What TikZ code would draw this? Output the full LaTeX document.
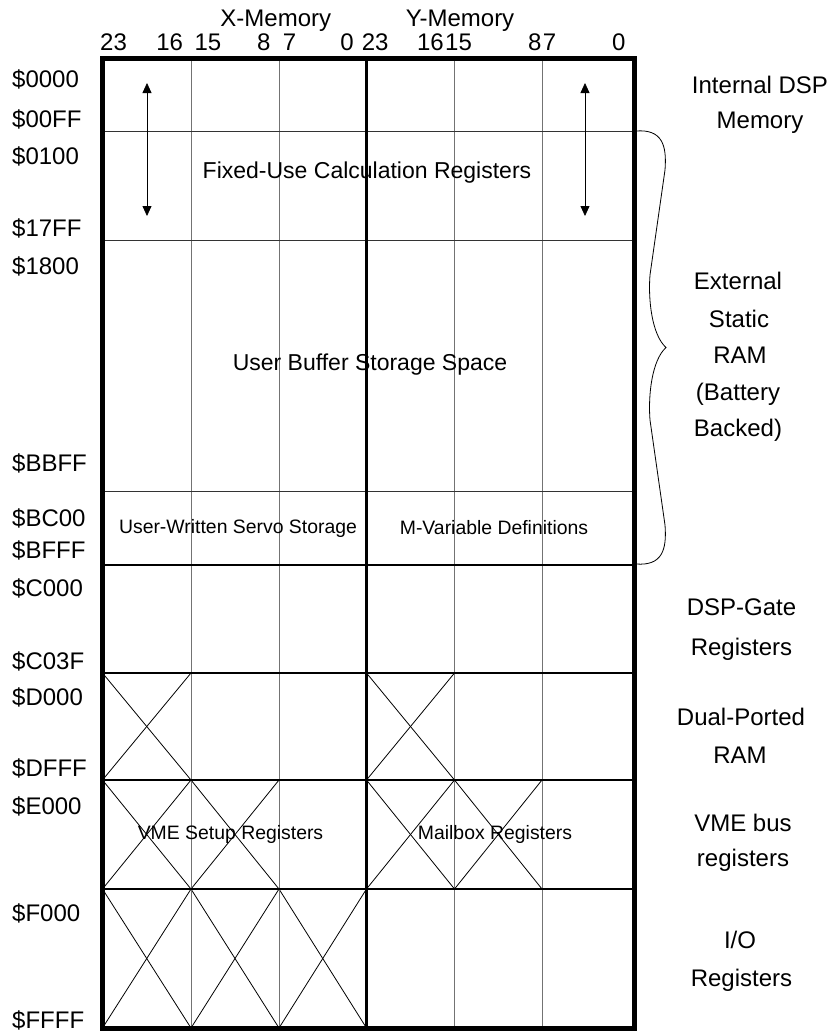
\documentclass[tikz,border=0pt]{standalone}
\usepackage{fontspec}
\setmainfont{Liberation Sans}
\usetikzlibrary{arrows.meta}
\begin{document}
\begin{tikzpicture}[x=1pt,y=-1pt,
  big/.style={font=\fontsize{24}{24}\selectfont, inner sep=0pt},
  mid/.style={font=\fontsize{23}{23}\selectfont, inner sep=0pt},
  small/.style={font=\fontsize{19.4}{19.4}\selectfont, inner sep=0pt},
  addr/.style={big, anchor=base west},
  side/.style={big, anchor=base},
  colline/.style={line width=1pt, draw=black!55},
  thinrow/.style={line width=1pt, draw=black!80},
  thickline/.style={line width=2.6pt, draw=black},
  border/.style={line width=5pt, draw=black},
  cross/.style={line width=0.8pt, draw=black},
  dblarrow/.style={line width=0.8pt, {Triangle[width=9pt,length=10pt]}-{Triangle[width=9pt,length=10pt]}},
  bracestyle/.style={line width=0.8pt, draw=black}
]
\useasboundingbox (0,0) rectangle (831,1034);
\fill[white] (0,0) rectangle (831,1034);

% column x positions
\def\xa{102.5}\def\xb{191}\def\xc{279}\def\xd{366.5}\def\xe{454.5}\def\xf{542}\def\xg{634}
% row y positions
\def\ya{58.5}\def\yb{131}\def\yc{240.5}\def\yd{491}\def\ye{565}\def\yf{673}\def\yg{780}\def\yh{889}\def\yi{1028}

% crosses
\foreach \l/\r/\t/\b in {\xa/\xb/\yf/\yg, \xd/\xe/\yf/\yg,
  \xa/\xb/\yg/\yh, \xb/\xc/\yg/\yh, \xd/\xe/\yg/\yh, \xe/\xf/\yg/\yh,
  \xa/\xb/\yh/\yi, \xb/\xc/\yh/\yi, \xc/\xd/\yh/\yi}{
  \draw[cross] (\l,\t) -- (\r,\b);
  \draw[cross] (\l,\b) -- (\r,\t);
}

% thin column lines
\foreach \x in {\xb,\xc,\xe,\xf}{ \draw[colline] (\x,\ya) -- (\x,\yi); }
% thin row lines
\foreach \y in {\yb,\yc,\yd}{ \draw[thinrow] (\xa,\y) -- (\xg,\y); }
% thick lines
\draw[thickline] (\xd,\ya) -- (\xd,\yi);
\foreach \y in {\ye,\yf,\yg,\yh}{ \draw[thickline] (\xa,\y) -- (\xg,\y); }
% border
\draw[border] (\xa,\ya) rectangle (\xg,\yi);

% headers
\node[big, anchor=base] (xmem) at (275.8,26.7) {X-Memory};
\node[big, anchor=base] (ymem) at (460,26.7) {Y-Memory};
\node[big, anchor=base west] (b1) at (100,50) {23};
\node[big, anchor=base east] (b2) at (183.3,50) {16};
\node[big, anchor=base west] (b3) at (194.3,50) {15};
\node[big, anchor=base east] (b4) at (270.7,50) {8};
\node[big, anchor=base west] (b5) at (282.7,50) {7};
\node[big, anchor=base east] (b6) at (354,50) {0};
\node[big, anchor=base west] (b7) at (361.7,50) {23};
\node[big, anchor=base east] (b8) at (444,50) {16};
\node[big, anchor=base west] (b9) at (445,50) {15};
\node[big, anchor=base east] (b10) at (541.7,50) {8};
\node[big, anchor=base west] (b11) at (542.7,50) {7};
\node[big, anchor=base east] (b12) at (625.7,50) {0};

% addresses
\node[addr] (a1) at (12,87) {\$0000};
\node[addr] (a2) at (12,127.4) {\$00FF};
\node[addr] (a3) at (12,164.2) {\$0100};
\node[addr] (a4) at (12,236.4) {\$17FF};
\node[addr] (a5) at (12,274.4) {\$1800};
\node[addr] (a6) at (12,471.4) {\$BBFF};
\node[addr] (a7) at (12,526.4) {\$BC00};
\node[addr] (a8) at (12,558.4) {\$BFFF};
\node[addr] (a9) at (12,596.4) {\$C000};
\node[addr] (a10) at (12,669.4) {\$C03F};
\node[addr] (a11) at (12,705.4) {\$D000};
\node[addr] (a12) at (12,776.4) {\$DFFF};
\node[addr] (a13) at (12,814.4) {\$E000};
\node[addr] (a14) at (12,921.4) {\$F000};
\node[addr] (a15) at (12,1028.4) {\$FFFF};

% inner labels
\node[mid] (fixed) at (367,173) {Fixed-Use Calculation Registers};
\node[mid] (ubuf) at (370,365) {User Buffer Storage Space};
\node[small] (servo) at (238,528) {User-Written Servo Storage};
\node[small] (mvar) at (494,528) {M-Variable Definitions};
\node[small] (vme) at (230.5,834.5) {VME Setup Registers};
\node[small] (mail) at (495,834.5) {Mailbox Registers};

% arrows
\coordinate (la1) at (147,83);
\coordinate (la2) at (147,216);
\coordinate (ra1) at (585,83);
\coordinate (ra2) at (585,216);
\draw[dblarrow] (la1) -- (la2);
\draw[dblarrow] (ra1) -- (ra2);

% brace
\coordinate (br1) at (636,131);
\coordinate (brtip) at (666,347.5);
\coordinate (br2) at (636,564);
\draw[bracestyle] (br1) .. controls (662,129) and (667,145) .. (665,170)
  -- (650,275) .. controls (648,300) and (652,335) .. (brtip)
  .. controls (652,360) and (648,395) .. (650,420)
  -- (665,525) .. controls (667,550) and (662,566) .. (br2);

% side labels
\node[side] (s1) at (760,93.6) {Internal DSP};
\node[side] (s2) at (760,128.6) {Memory};
\node[side] (s3) at (738,289.6) {External};
\node[side] (s4) at (739,327) {Static};
\node[side] (s5) at (740,363.6) {RAM};
\node[side] (s6) at (738,400.6) {(Battery};
\node[side] (s7) at (738,436.6) {Backed)};
\node[side] (s8) at (741.5,615) {DSP-Gate};
\node[side] (s9) at (741.5,655) {Registers};
\node[side] (s10) at (741,725.6) {Dual-Ported};
\node[side] (s11) at (740,763.6) {RAM};
\node[side] (s12) at (743,831.6) {VME bus};
\node[side] (s13) at (743,866) {registers};
\node[side] (s14) at (740,948.6) {I/O};
\node[side] (s15) at (741.5,986.6) {Registers};
\end{tikzpicture}
\end{document}
